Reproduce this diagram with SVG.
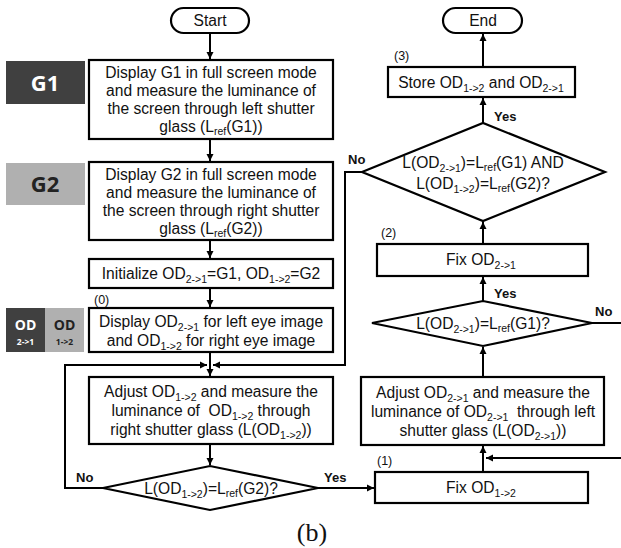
<svg xmlns="http://www.w3.org/2000/svg" width="621" height="548" viewBox="0 0 621 548">
<style>
.b{fill:#fff;stroke:#000;stroke-width:2.2}
.t{font-family:"Liberation Sans",Arial,sans-serif;font-size:15.6px;fill:#111;text-anchor:middle;white-space:pre}
.s{font-size:10.5px}
.lb{font-family:"Liberation Sans",Arial,sans-serif;font-size:13px;font-weight:bold;fill:#111}
.n{font-family:"Liberation Sans",Arial,sans-serif;font-size:12.5px;fill:#111}
.c{fill:none;stroke:#000;stroke-width:2}
.k{font-family:"Open Sans","DejaVu Sans",sans-serif;font-weight:bold;text-anchor:middle}
</style>
<defs>
<marker id="a" markerUnits="userSpaceOnUse" markerWidth="8" markerHeight="8" refX="7" refY="4" orient="auto">
<path d="M0,0.5 L7,4 L0,7.5 z" fill="#000"/>
</marker>
</defs>
<rect width="621" height="548" fill="#fff"/>

<g id="start"><rect class="b" x="171" y="8" width="78" height="25" rx="12.5"/><text class="t" x="210" y="26">Start</text></g>

<g id="g1"><rect x="6" y="61" width="79" height="43" fill="#404040"/><text class="k" x="45" y="91" font-size="22" fill="#fff">G1</text></g>
<g id="box1"><rect class="b" x="89" y="60" width="244" height="79"/>
<text class="t" x="211" y="78">Display G1 in full screen mode</text>
<text class="t" x="211" y="96">and measure the luminance of</text>
<text class="t" x="211" y="114">the screen through left shutter</text>
<text class="t" x="211" y="132">glass (L<tspan class="s" dy="3">ref</tspan><tspan dy="-3">(G1))</tspan></text></g>

<g id="g2"><rect x="6" y="163" width="79" height="42" fill="#b0b0b0"/><text class="k" x="45" y="192" font-size="22" fill="#222">G2</text></g>
<g id="box2"><rect class="b" x="89" y="162" width="244" height="78"/>
<text class="t" x="211" y="180">Display G2 in full screen mode</text>
<text class="t" x="211" y="198">and measure the luminance of</text>
<text class="t" x="211" y="216">the screen through right shutter</text>
<text class="t" x="211" y="234">glass (L<tspan class="s" dy="3">ref</tspan><tspan dy="-3">(G2))</tspan></text></g>

<g id="box3"><rect class="b" x="89" y="259" width="244" height="29"/>
<text class="t" x="211" y="279">Initialize OD<tspan class="s" dy="4">2-&gt;1</tspan><tspan dy="-4">=G1, OD</tspan><tspan class="s" dy="4">1-&gt;2</tspan><tspan dy="-4">=G2</tspan></text></g>

<g id="od"><rect x="6" y="308" width="39" height="44" fill="#404040"/><rect x="45" y="308" width="39" height="44" fill="#b0b0b0"/>
<text class="k" x="25.5" y="330" font-size="14" fill="#fff">OD</text>
<text class="k" x="25.5" y="345" font-size="8.5" fill="#fff">2-&gt;1</text>
<text class="k" x="64.5" y="330" font-size="14" fill="#222">OD</text>
<text class="k" x="64.5" y="345" font-size="8.5" fill="#222">1-&gt;2</text></g>
<text class="n" x="94" y="304">(0)</text>
<g id="box4"><rect class="b" x="89" y="308" width="244" height="44"/>
<text class="t" x="211" y="327">Display OD<tspan class="s" dy="4">2-&gt;1</tspan><tspan dy="-4"> for left eye image</tspan></text>
<text class="t" x="211" y="346">and OD<tspan class="s" dy="4">1-&gt;2</tspan><tspan dy="-4"> for right eye image</tspan></text></g>

<g id="box5"><rect class="b" x="89" y="377" width="244" height="67"/>
<text class="t" x="211" y="397">Adjust OD<tspan class="s" dy="4">1-&gt;2</tspan><tspan dy="-4"> and measure the</tspan></text>
<text class="t" x="211" y="416">luminance of  OD<tspan class="s" dy="4">1-&gt;2</tspan><tspan dy="-4"> through</tspan></text>
<text class="t" x="211" y="435">right shutter glass (L(OD<tspan class="s" dy="4">1-&gt;2</tspan><tspan dy="-4">))</tspan></text></g>

<g id="d1"><path class="b" d="M103,488 L210,466 L318,488 L210,510 z"/>
<text class="t" x="211" y="494">L(OD<tspan class="s" dy="4">1-&gt;2</tspan><tspan dy="-4">)=L</tspan><tspan class="s" dy="3">ref</tspan><tspan dy="-3">(G2)?</tspan></text></g>

<g id="fix12"><rect class="b" x="375" y="472" width="213" height="31"/>
<text class="t" x="481" y="493">Fix OD<tspan class="s" dy="4">1-&gt;2</tspan></text></g>
<text class="n" x="377" y="465">(1)</text>

<g id="adj21"><rect class="b" x="361" y="377" width="243" height="68"/>
<text class="t" x="483" y="398">Adjust OD<tspan class="s" dy="4">2-&gt;1</tspan><tspan dy="-4"> and measure the</tspan></text>
<text class="t" x="483" y="417">luminance of OD<tspan class="s" dy="4">2-&gt;1</tspan><tspan dy="-4">  through left</tspan></text>
<text class="t" x="483" y="436">shutter glass (L(OD<tspan class="s" dy="4">2-&gt;1</tspan><tspan dy="-4">))</tspan></text></g>

<g id="d2"><path class="b" d="M372,323 L483,301 L592,323 L483,346 z"/>
<text class="t" x="483" y="329">L(OD<tspan class="s" dy="4">2-&gt;1</tspan><tspan dy="-4">)=L</tspan><tspan class="s" dy="3">ref</tspan><tspan dy="-3">(G1)?</tspan></text></g>

<g id="fix21"><rect class="b" x="377" y="244" width="211" height="32"/>
<text class="t" x="481" y="265">Fix OD<tspan class="s" dy="4">2-&gt;1</tspan></text></g>
<text class="n" x="381" y="237">(2)</text>

<g id="d3"><path class="b" d="M362,172 L483,123 L605,172 L483,221 z"/>
<text class="t" x="483" y="168">L(OD<tspan class="s" dy="4">2-&gt;1</tspan><tspan dy="-4">)=L</tspan><tspan class="s" dy="3">ref</tspan><tspan dy="-3">(G1) AND</tspan></text>
<text class="t" x="483" y="189">L(OD<tspan class="s" dy="4">1-&gt;2</tspan><tspan dy="-4">)=L</tspan><tspan class="s" dy="3">ref</tspan><tspan dy="-3">(G2)?</tspan></text></g>

<g id="store"><rect class="b" x="388" y="67" width="187" height="30"/>
<text class="t" x="481" y="88">Store OD<tspan class="s" dy="4">1-&gt;2</tspan><tspan dy="-4"> and OD</tspan><tspan class="s" dy="4">2-&gt;1</tspan></text></g>
<text class="n" x="394" y="60">(3)</text>

<g id="end"><rect class="b" x="443" y="8" width="79" height="25" rx="12.5"/><text class="t" x="483" y="26">End</text></g>

<g id="connectors">
<line class="c" x1="210" y1="33" x2="210" y2="59" marker-end="url(#a)"/>
<line class="c" x1="210" y1="140" x2="210" y2="161" marker-end="url(#a)"/>
<line class="c" x1="210" y1="241" x2="210" y2="258" marker-end="url(#a)"/>
<line class="c" x1="210" y1="289" x2="210" y2="307" marker-end="url(#a)"/>
<line class="c" x1="210" y1="353" x2="210" y2="376" marker-end="url(#a)"/>
<polyline class="c" points="103,488 65,488 65,365 207,365" marker-end="url(#a)"/>
<polyline class="c" points="362,172 345,172 345,365 213,365" marker-end="url(#a)"/>
<line class="c" x1="210" y1="445" x2="210" y2="465" marker-end="url(#a)"/>
<line class="c" x1="318" y1="488" x2="374" y2="488" marker-end="url(#a)"/>
<line class="c" x1="483" y1="472" x2="483" y2="446" marker-end="url(#a)"/>
<line class="c" x1="621" y1="458" x2="486" y2="458" marker-end="url(#a)"/>
<line class="c" x1="483" y1="377" x2="483" y2="347" marker-end="url(#a)"/>
<line class="c" x1="592" y1="323" x2="621" y2="323"/>
<line class="c" x1="483" y1="301" x2="483" y2="277" marker-end="url(#a)"/>
<line class="c" x1="483" y1="244" x2="483" y2="222" marker-end="url(#a)"/>
<line class="c" x1="483" y1="123" x2="483" y2="98" marker-end="url(#a)"/>
<line class="c" x1="483" y1="67" x2="483" y2="34" marker-end="url(#a)"/>
</g>
<text class="lb" x="76" y="482">No</text>
<text class="lb" x="324" y="482">Yes</text>
<text class="lb" x="348" y="164">No</text>
<text class="lb" x="494" y="121">Yes</text>
<text class="lb" x="494" y="298">Yes</text>
<text class="lb" x="595" y="316">No</text>
<text x="312" y="541" font-family="'Liberation Serif','Times New Roman',serif" font-size="26" fill="#111" text-anchor="middle">(b)</text>
</svg>
